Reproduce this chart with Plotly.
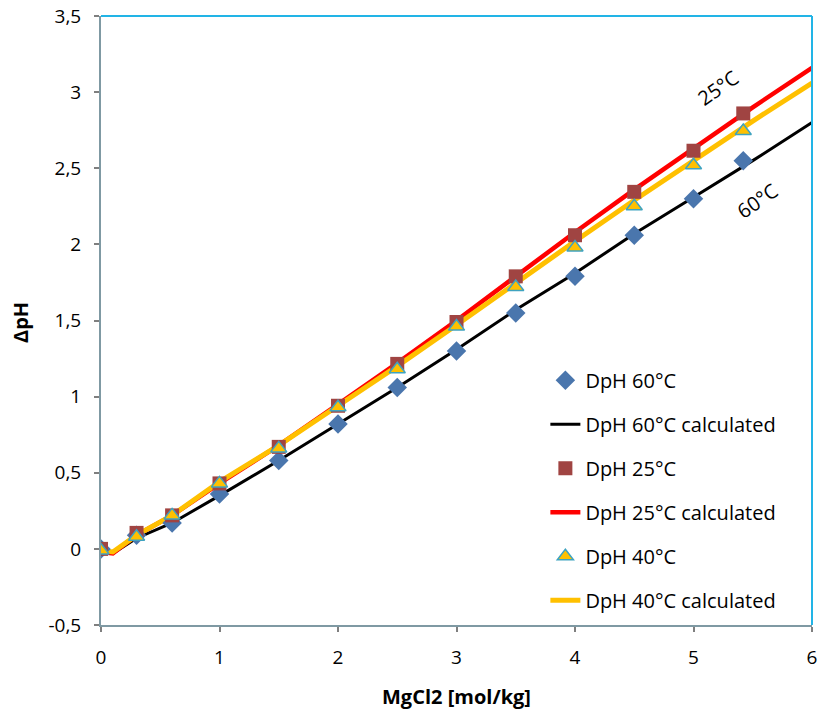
import plotly.graph_objects as go

# measured data
x_meas = [0, 0.3, 0.6, 1.0, 1.5, 2.0, 2.5, 3.0, 3.5, 4.0, 4.5, 5.0, 5.42]
y60 = [0, 0.09, 0.17, 0.36, 0.58, 0.82, 1.06, 1.30, 1.55, 1.79, 2.06, 2.30, 2.55]
y25 = [0, 0.105, 0.22, 0.43, 0.67, 0.94, 1.215, 1.49, 1.79, 2.06, 2.345, 2.615, 2.86]
y40 = [-0.01, 0.08, 0.22, 0.43, 0.66, 0.93, 1.18, 1.46, 1.72, 1.98, 2.25, 2.52, 2.745]

# calculated curves
x_calc = [0, 0.1, 0.3, 0.6, 1.0, 1.5, 2.0, 2.5, 3.0, 3.5, 4.0, 4.5, 5.0, 5.5, 6.0]
c60 = [-0.02, -0.03, 0.07, 0.17, 0.35, 0.58, 0.82, 1.06, 1.31, 1.57, 1.81, 2.07, 2.31, 2.55, 2.80]
c25 = [-0.02, -0.03, 0.09, 0.22, 0.43, 0.68, 0.95, 1.22, 1.50, 1.79, 2.08, 2.36, 2.63, 2.90, 3.16]
c40 = [-0.01, -0.02, 0.09, 0.22, 0.44, 0.68, 0.94, 1.20, 1.47, 1.75, 2.02, 2.29, 2.55, 2.81, 3.06]

x_ticks = [0, 1, 2, 3, 4, 5, 6]
x_labels = ["0", "1", "2", "3", "4", "5", "6"]
y_ticks = [-0.5, 0, 0.5, 1, 1.5, 2, 2.5, 3, 3.5]
y_labels = ["-0,5", "0", "0,5", "1", "1,5", "2", "2,5", "3", "3,5"]

FONT = "Open Sans, Lato, sans-serif"

fig = go.Figure()
fig.add_trace(go.Scatter(x=x_calc, y=c60, mode="lines", name="DpH 60°C calculated",
                         line=dict(color="black", width=3), legendrank=2, legendgroup="b"))
fig.add_trace(go.Scatter(x=x_calc, y=c25, mode="lines", name="DpH 25°C calculated",
                         line=dict(color="#ff0000", width=4.5), legendrank=4, legendgroup="d"))
fig.add_trace(go.Scatter(x=x_calc, y=c40, mode="lines", name="DpH 40°C calculated",
                         line=dict(color="#ffc000", width=5), legendrank=6, legendgroup="f"))
fig.add_trace(go.Scatter(x=x_meas, y=y60, mode="markers", name="DpH 60°C",
                         marker=dict(symbol="diamond", size=15, color="#4a76ad"),
                         legendrank=1, legendgroup="a"))
fig.add_trace(go.Scatter(x=x_meas, y=y25, mode="markers", name="DpH 25°C",
                         marker=dict(symbol="square", size=14, color="#a04442"),
                         legendrank=3, legendgroup="c"))
fig.add_trace(go.Scatter(x=x_meas, y=y40, mode="markers", name="DpH 40°C",
                         marker=dict(symbol="triangle-up", size=14, color="#ffc000",
                                     line=dict(color="#3fa3c0", width=1.5)),
                         legendrank=5, legendgroup="e"))

axis_common = dict(
    showgrid=False, zeroline=False, showline=True, linecolor="#7f99a3", linewidth=2,
    ticks="outside", ticklen=5, tickcolor="#7f7f7f", tickwidth=1.5, automargin=False,
    ticklabelstandoff=9,
    tickfont=dict(family=FONT, size=19, color="black"),
)

fig.update_layout(
    width=822, height=711,
    margin=dict(l=101, r=10, t=16, b=86),
    paper_bgcolor="white", plot_bgcolor="white",
    font=dict(family=FONT, color="black"),
    xaxis=dict(range=[0, 6], tickvals=x_ticks, ticktext=x_labels, **axis_common),
    yaxis=dict(range=[-0.5, 3.5], tickvals=y_ticks, ticktext=y_labels, **axis_common),
    legend=dict(x=0.625, y=0.434, xanchor="left", yanchor="top",
                bgcolor="rgba(0,0,0,0)", font=dict(family=FONT, size=20),
                tracegroupgap=15),
    showlegend=True,
    shapes=[
        dict(type="line", xref="paper", yref="paper", x0=0, x1=1, y0=1, y1=1,
             line=dict(color="#22b4e6", width=2)),
        dict(type="line", xref="paper", yref="paper", x0=1, x1=1, y0=0, y1=1,
             line=dict(color="#22b4e6", width=2)),
    ],
    annotations=[
        dict(x=5.21, y=3.03, text="25°C", showarrow=False, textangle=-35,
             font=dict(family=FONT, size=20, color="black")),
        dict(x=5.54, y=2.29, text="60°C", showarrow=False, textangle=-35,
             font=dict(family=FONT, size=20, color="black")),
        dict(xref="paper", yref="paper", x=0.5, y=-0.117, xanchor="center", yanchor="middle",
             text="<b>MgCl2 [mol/kg]</b>",
             showarrow=False, font=dict(family=FONT, size=20, color="black")),
        dict(xref="paper", yref="paper", x=-0.1125, y=0.496, xanchor="center", yanchor="middle",
             text="<b>ΔpH</b>", textangle=-90,
             showarrow=False, font=dict(family=FONT, size=20, color="black")),
    ],
)

# remove the browser's default 8px page margin so the figure sits at the window origin
fig.write_html("out.html", config={"displayModeBar": False},
               post_script="document.body.style.margin='0';")
